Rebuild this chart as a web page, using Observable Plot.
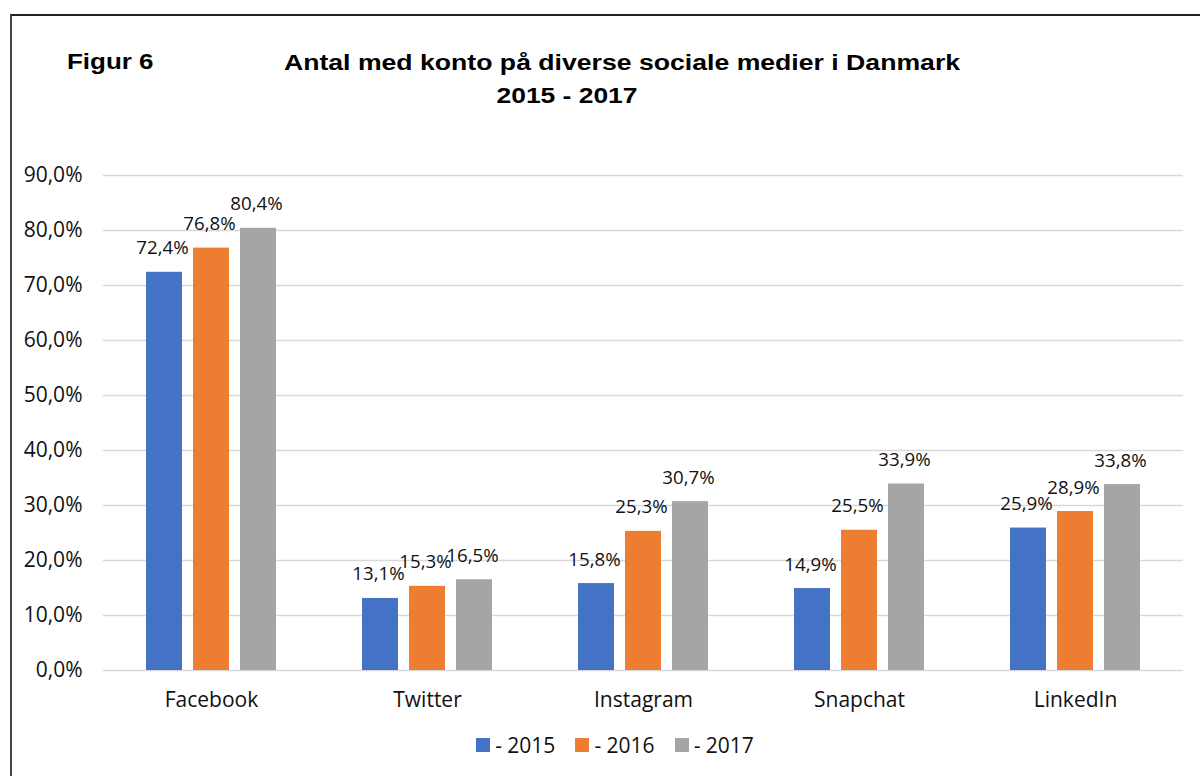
<!DOCTYPE html>
<html>
<head>
<meta charset="utf-8">
<script src="https://cdn.jsdelivr.net/npm/d3@7"></script>
<script src="https://cdn.jsdelivr.net/npm/@observablehq/plot@0.6"></script>
<style>
  html, body { margin: 0; padding: 0; background: #fff; }
  #wrap { position: relative; width: 1200px; height: 776px; overflow: hidden; background: #fff; }
  #frame { position: absolute; left: 10px; top: 14px; width: 1300px; height: 900px; border-left: 2px solid #444; border-top: 2px solid #222; }
  .t { position: absolute; font-family: "Liberation Sans", Arial, sans-serif; font-weight: bold; font-size: 22px; color: #000; white-space: nowrap; }
  #chart { position: absolute; left: 0; top: 0; }
  #legend { position: absolute; top: 731px; left: 0; width: 1200px; display: flex; justify-content: center; gap: 20px; font-family: "Open Sans", sans-serif; font-size: 21px; color: #111; padding-left: 30px; box-sizing: border-box; }
  #legend .item { display: flex; align-items: center; gap: 5px; }
  #legend .sw { width: 14px; height: 14px; display: inline-block; }
</style>
</head>
<body>
<div id="wrap">
  <div id="frame"></div>
  <div class="t" id="fig" style="left:67px; top:49px; transform-origin:left center; transform:scaleX(1.18);">Figur 6</div>
  <div class="t" id="t1" style="left:622px; top:50px; transform:translateX(-50%) scaleX(1.21);">Antal med konto på diverse sociale medier i Danmark</div>
  <div class="t" id="t2" style="left:567px; top:83px; transform:translateX(-50%) scaleX(1.2);">2015 - 2017</div>
  <div id="chart"></div>
  <div id="legend"></div>
</div>
<script>
const platforms = ["Facebook", "Twitter", "Instagram", "Snapchat", "LinkedIn"];
const years = ["- 2015", "- 2016", "- 2017"];
const values2015 = [72.4, 13.1, 15.8, 14.9, 25.9];
const values2016 = [76.8, 15.3, 25.3, 25.5, 28.9];
const values2017 = [80.4, 16.5, 30.7, 33.9, 33.8];
const yTicks = [0, 10, 20, 30, 40, 50, 60, 70, 80, 90];
const colors = ["#4472C4", "#ED7D31", "#A5A5A5"];

const series = [values2015, values2016, values2017];
const data = [];
platforms.forEach((p, i) => {
  years.forEach((yr, j) => data.push({platform: p, year: yr, value: series[j][i]}));
});
const fmt = v => v.toFixed(1).replace(".", ",") + "%";

const chart = Plot.plot({
  width: 1200,
  height: 776,
  marginTop: 175,
  marginBottom: 106,
  marginLeft: 101,
  marginRight: 16,
  style: {fontFamily: "'Open Sans', sans-serif", fontSize: "19px", color: "#111", background: "transparent"},
  fx: {domain: platforms, padding: 0, label: null},
  x: {domain: years, paddingInner: 0.229, paddingOuter: 0.87, axis: null},
  y: {domain: [0, 90], label: null},
  color: {domain: years, range: colors},
  marks: [
    Plot.gridY(yTicks, {stroke: "#d9d9d9", strokeOpacity: 1, strokeWidth: 1.5}),
    Plot.axisY(yTicks, {tickFormat: d => d.toFixed(1).replace(".", ",") + "%", tickSize: 0, tickPadding: 21, fontSize: 21, label: null, fill: "#111"}),
    Plot.axisFx({anchor: "bottom", tickSize: 0, tickPadding: 22, fontSize: 21, label: null, fill: "#111"}),
    Plot.barY(data, {fx: "platform", x: "year", y: "value", fill: "year"}),
    Plot.text(data, {fx: "platform", x: "year", y: "value", text: d => fmt(d.value), dy: -24, dx: -2, fontSize: 18.7, fill: "#111"})
  ]
});
document.getElementById("chart").appendChild(chart);

const legend = document.getElementById("legend");
years.forEach((yr, j) => {
  const it = document.createElement("div");
  it.className = "item";
  const sw = document.createElement("span");
  sw.className = "sw";
  sw.style.background = colors[j];
  const lb = document.createElement("span");
  lb.textContent = yr;
  it.appendChild(sw); it.appendChild(lb);
  legend.appendChild(it);
});
</script>
</body>
</html>
